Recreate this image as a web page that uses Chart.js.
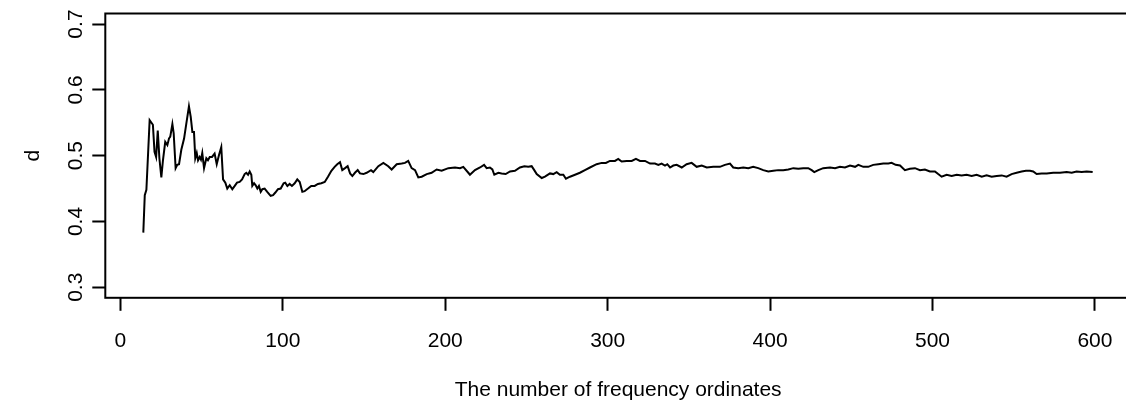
<!DOCTYPE html>
<html>
<head>
<meta charset="utf-8">
<script src="https://cdn.jsdelivr.net/npm/chart.js@4.4.1/dist/chart.umd.min.js"></script>
<style>
  html, body { margin: 0; padding: 0; background: #fff; overflow: hidden; width: 1126px; height: 405px; }
  canvas { display: block; }
</style>
</head>
<body>
<canvas id="c" width="1131" height="405"></canvas>
<script>
// Number of frequency ordinates (x) and estimated d (y)
const ordinates = [14.1,15.0,16.0,18.0,20.0,21.0,22.0,23.0,24.0,25.2,26.2,27.6,28.9,29.9,30.7,32.0,32.8,34.0,35.0,36.1,37.5,39.2,40.6,42.2,43.3,44.3,45.3,46.1,47.0,47.8,48.8,49.6,50.4,51.5,52.9,53.9,55.0,56.4,58.0,59.3,60.7,62.1,63.2,64.6,65.8,67.3,68.9,70.4,71.8,73.4,74.9,76.5,77.5,78.6,79.6,80.6,81.2,82.3,83.3,84.3,85.3,86.4,87.4,88.8,90.4,92.5,94.0,95.4,97.0,98.7,100.5,101.5,102.8,104.2,105.6,107.3,108.9,110.4,112.0,113.4,115.5,117.5,119.6,121.6,123.7,125.8,127.8,129.9,131.9,133.5,135.2,136.6,138.3,139.9,141.4,142.8,144.4,146.1,147.5,149.6,151.6,154.3,155.7,158.8,161.9,164.9,167.0,170.1,173.2,175.2,177.2,179.3,181.4,183.4,185.5,188.6,191.6,194.7,197.8,201.9,206.0,209.1,211.1,214.2,215.2,218.3,221.4,223.9,225.5,227.5,229.0,230.2,232.7,234.7,237.2,239.9,242.9,246.0,248.7,251.1,253.2,254.8,256.3,259.4,261.4,264.5,266.5,268.6,270.6,272.7,274.3,276.8,279.9,282.9,286.0,289.1,293.2,296.3,298.9,301.4,304.5,306.5,308.6,311.7,314.8,317.4,319.9,323.0,326.1,329.1,331.2,333.2,335.3,336.7,338.4,340.4,342.5,345.6,348.6,351.7,354.8,357.9,361.0,365.0,369.1,372.2,375.3,377.3,380.4,383.5,386.6,389.6,392.7,395.8,398.9,402.0,405.0,408.1,411.2,414.3,417.4,420.4,423.5,425.6,427.2,429.7,432.7,436.9,440.0,443.0,446.1,449.2,452.3,454.3,457.4,460.4,463.5,466.6,469.7,472.8,474.8,477.3,480.0,483.0,486.1,489.2,492.3,495.3,498.4,501.5,503.5,505.6,508.7,511.8,514.9,517.9,521.0,524.1,527.2,530.3,533.3,536.4,539.5,542.6,545.6,548.7,551.8,554.9,557.5,560.0,562.0,564.1,567.2,570.3,574.3,578.5,582.6,585.7,588.7,591.8,594.9,598.6];
const dValues = [0.383,0.440,0.448,0.554,0.547,0.506,0.498,0.538,0.496,0.467,0.493,0.521,0.516,0.526,0.529,0.548,0.534,0.481,0.486,0.487,0.509,0.526,0.549,0.575,0.559,0.536,0.536,0.496,0.504,0.493,0.498,0.494,0.504,0.481,0.496,0.493,0.498,0.498,0.503,0.487,0.501,0.513,0.464,0.459,0.450,0.455,0.449,0.454,0.459,0.460,0.464,0.472,0.474,0.471,0.476,0.471,0.454,0.458,0.455,0.450,0.454,0.445,0.449,0.450,0.445,0.439,0.440,0.444,0.449,0.450,0.458,0.459,0.454,0.457,0.454,0.458,0.464,0.460,0.445,0.446,0.450,0.454,0.454,0.457,0.458,0.460,0.468,0.477,0.483,0.487,0.490,0.478,0.481,0.484,0.473,0.469,0.474,0.478,0.473,0.472,0.474,0.478,0.475,0.484,0.489,0.484,0.479,0.487,0.488,0.489,0.492,0.481,0.478,0.467,0.468,0.472,0.474,0.479,0.477,0.481,0.482,0.481,0.483,0.474,0.471,0.478,0.482,0.486,0.481,0.482,0.479,0.471,0.474,0.473,0.472,0.476,0.477,0.482,0.484,0.483,0.484,0.478,0.472,0.466,0.468,0.473,0.472,0.475,0.471,0.471,0.465,0.468,0.471,0.474,0.478,0.482,0.487,0.489,0.489,0.492,0.492,0.495,0.491,0.492,0.492,0.495,0.492,0.492,0.488,0.488,0.486,0.488,0.485,0.487,0.482,0.485,0.486,0.482,0.487,0.489,0.483,0.485,0.482,0.483,0.483,0.486,0.488,0.482,0.481,0.482,0.481,0.483,0.481,0.478,0.476,0.477,0.478,0.478,0.479,0.481,0.480,0.481,0.481,0.478,0.475,0.478,0.481,0.482,0.481,0.483,0.482,0.485,0.483,0.486,0.483,0.483,0.486,0.487,0.488,0.488,0.489,0.486,0.485,0.478,0.480,0.481,0.478,0.479,0.476,0.476,0.472,0.468,0.471,0.469,0.471,0.470,0.471,0.469,0.471,0.468,0.470,0.468,0.469,0.470,0.468,0.472,0.474,0.476,0.477,0.477,0.476,0.472,0.473,0.473,0.474,0.474,0.475,0.474,0.476,0.475,0.476,0.475];
const xTicks = [0, 100, 200, 300, 400, 500, 600];
const xTickLabels = ['0', '100', '200', '300', '400', '500', '600'];
const yTicks = [0.3, 0.4, 0.5, 0.6, 0.7];
const yTickLabels = ['0.3', '0.4', '0.5', '0.6', '0.7'];
const xTitle = 'The number of frequency ordinates';
const yTitle = 'd';

const FONT = { family: '"Liberation Sans", Arial, Helvetica, sans-serif', size: 21 };
const LW = 2;

const boxPlugin = {
  id: 'rbox',
  afterDraw(chart) {
    const a = chart.chartArea, ctx = chart.ctx;
    ctx.save();
    ctx.strokeStyle = '#000';
    ctx.lineWidth = LW;
    ctx.strokeRect(a.left, a.top, a.right - a.left, a.bottom - a.top);
    ctx.restore();
  }
};

new Chart(document.getElementById('c'), {
  type: 'line',
  data: {
    datasets: [{
      data: ordinates.map((x, i) => ({ x: x, y: dValues[i] })),
      borderColor: '#000',
      borderWidth: LW,
      pointRadius: 0,
      tension: 0,
      fill: false
    }]
  },
  options: {
    responsive: false,
    devicePixelRatio: 1,
    animation: false,
    events: [],
    layout: { padding: { left: 0, right: 0, top: 13.5, bottom: 0 } },
    plugins: { legend: { display: false }, tooltip: { enabled: false } },
    scales: {
      x: {
        type: 'linear',
        min: -9.3,
        max: 622.2,
        afterBuildTicks: s => { s.ticks = xTicks.map(v => ({ value: v })); },
        afterFit: s => { s.height = 107.2; s.paddingLeft = 0; s.paddingRight = 0; },
        border: { display: false },
        grid: { display: true, drawOnChartArea: false, drawTicks: true, tickLength: 13, tickWidth: LW, tickColor: '#000' },
        ticks: {
          color: '#000', font: FONT, padding: 17.4, maxRotation: 0, minRotation: 0, autoSkip: false,
          callback: (v, i) => xTickLabels[i]
        },
        title: { display: true, text: xTitle, color: '#000', font: FONT, padding: { top: 0, bottom: 2 } }
      },
      y: {
        type: 'linear',
        min: 0.284,
        max: 0.716,
        afterBuildTicks: s => { s.ticks = yTicks.map(v => ({ value: v })); },
        afterFit: s => { s.width = 105.3; s.paddingTop = 0; s.paddingBottom = 0; },
        border: { display: false },
        grid: { display: true, drawOnChartArea: false, drawTicks: true, tickLength: 13, tickWidth: LW, tickColor: '#000' },
        ticks: {
          color: '#000', font: FONT, padding: 1.7, minRotation: 90, maxRotation: 90, crossAlign: 'center', autoSkip: false,
          callback: (v, i) => yTickLabels[i]
        },
        title: { display: true, text: yTitle, color: '#000', font: FONT, padding: { top: 21, bottom: 0 } }
      }
    }
  },
  plugins: [boxPlugin]
});
</script>
</body>
</html>
